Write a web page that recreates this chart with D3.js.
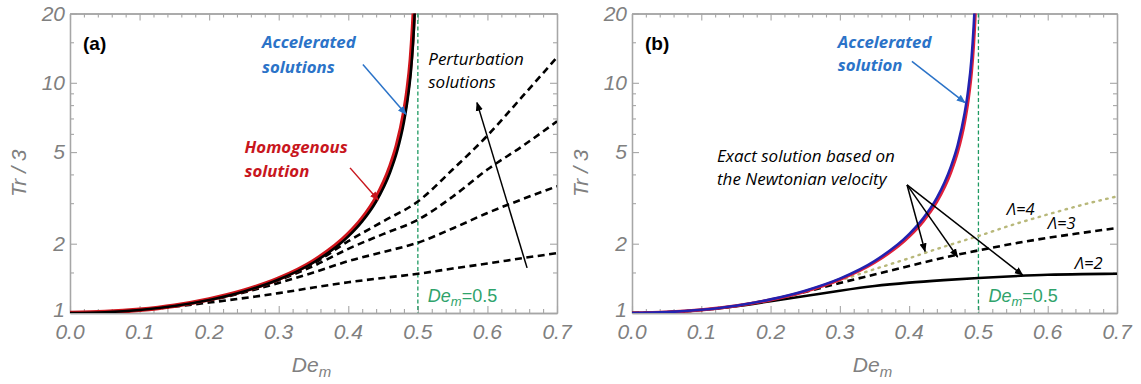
<!DOCTYPE html>
<html><head><meta charset="utf-8">
<script src="https://cdn.jsdelivr.net/npm/d3@7"></script>
<style>body{margin:0;background:#fff}svg{display:block}</style>
</head><body>
<svg id="chart" width="1141" height="384"></svg>
<script>
// ---------- data ----------
const xTicks = [0, 0.1, 0.2, 0.3, 0.4, 0.5, 0.6, 0.7];
const xTickLabels = ["0.0", "0.1", "0.2", "0.3", "0.4", "0.5", "0.6", "0.7"];
const xMinorTicks = [0.02,0.04,0.06,0.08,0.12,0.14,0.16,0.18,0.22,0.24,0.26,0.28,0.32,0.34,0.36,0.38,0.42,0.44,0.46,0.48,0.52,0.54,0.56,0.58,0.62,0.64,0.66,0.68];
const yTicks = [1, 2, 5, 10, 20];
const yTickLabels = ["1", "2", "5", "10", "20"];
const yMinorTicks = [1.5, 3, 4, 6, 7, 8, 9, 15];

// panel (a)
const deAcc = [0, 0.05, 0.1, 0.15, 0.2, 0.25, 0.3, 0.35, 0.4, 0.42, 0.44, 0.46, 0.47, 0.48, 0.485, 0.49, 0.493, 0.495, 0.4955];
const accelA = [1, 1.008, 1.031, 1.073, 1.14, 1.241, 1.398, 1.657, 2.151, 2.5, 3.05, 4.08, 5.02, 6.76, 8.35, 11.2, 14.7, 18.9, 20.5];
const homogA = [1, 1.009, 1.033, 1.076, 1.146, 1.25, 1.41, 1.68, 2.2, 2.57, 3.16, 4.3, 5.35, 7.35, 9.2, 12.7, 17.3, 22.5, 24];
const dePert = [0, 0.1, 0.2, 0.3, 0.35, 0.4, 0.45, 0.5, 0.55, 0.6, 0.65, 0.7];
const pert1 = [1, 1.031, 1.14, 1.395, 1.64, 2.05, 2.5, 3.05, 4.2, 5.9, 8.7, 12.9];
const pert2 = [1, 1.031, 1.14, 1.39, 1.6, 1.9, 2.2, 2.54, 3.2, 4.2, 5.3, 6.8];
const pert3 = [1, 1.03, 1.135, 1.35, 1.5, 1.68, 1.84, 2.02, 2.33, 2.72, 3.12, 3.55];
const pert4 = [1, 1.03, 1.11, 1.22, 1.29, 1.36, 1.42, 1.48, 1.56, 1.64, 1.73, 1.82];

// panel (b)
const accelB = [1, 1.009, 1.033, 1.076, 1.146, 1.25, 1.41, 1.68, 2.2, 2.57, 3.16, 4.3, 5.35, 7.35, 9.2, 12.7, 17.3, 22.5, 24];
const redB = [1, 1.008, 1.031, 1.073, 1.14, 1.241, 1.398, 1.657, 2.151, 2.5, 3.05, 4.08, 5.02, 6.76, 8.35, 11.2, 14.7, 18.9, 20.5];
const deLam = [0, 0.05, 0.1, 0.15, 0.2, 0.25, 0.3, 0.35, 0.4, 0.45, 0.5, 0.55, 0.6, 0.65, 0.7];
const lam2 = [1, 1.008, 1.03, 1.07, 1.125, 1.185, 1.25, 1.31, 1.355, 1.39, 1.42, 1.445, 1.465, 1.475, 1.48];
const lam3 = [1, 1.008, 1.031, 1.073, 1.14, 1.235, 1.35, 1.47, 1.6, 1.74, 1.87, 2.0, 2.12, 2.23, 2.34];
const lam4 = [1, 1.008, 1.031, 1.073, 1.14, 1.24, 1.385, 1.55, 1.73, 1.94, 2.16, 2.42, 2.68, 2.95, 3.21];

// ---------- layout ----------
const svg = d3.select("#chart");
const panels = [
  {x0: 70, x1: 557, id: "a"},
  {x0: 632, x1: 1117, id: "b"}
];
const yTop = 13.5, yBot = 313;
const gray = "#808080";
const frameCol = "#a6a6a6";
const tickFont = "'Liberation Sans', Arial, sans-serif";
const annFont = "'Open Sans', Lato, sans-serif";

const defs = svg.append("defs");
function marker(id, color) {
  defs.append("marker").attr("id", id).attr("viewBox", "0 0 10 10")
    .attr("refX", 9).attr("refY", 5).attr("markerWidth", 9).attr("markerHeight", 9)
    .attr("markerUnits", "userSpaceOnUse").attr("orient", "auto")
    .append("path").attr("d", "M0,1 L10,5 L0,9 Z").attr("fill", color);
}
marker("arrBlack", "#000");
marker("arrBlue", "#2b73c8");
marker("arrRed", "#c8161d");

panels.forEach(p => {
  p.x = d3.scaleLinear().domain([0, 0.7]).range([p.x0, p.x1]);
  p.y = d3.scaleLog().domain([1, 20]).range([yBot, yTop]);
  const g = svg.append("g");
  p.g = g;
  defs.append("clipPath").attr("id", "clip" + p.id).append("rect")
    .attr("x", p.x0).attr("y", yTop).attr("width", p.x1 - p.x0).attr("height", yBot - yTop);

  const mk = (axis, tr) => g.append("g").attr("transform", tr).call(axis)
    .call(s => s.select(".domain").attr("stroke", frameCol).attr("stroke-width", 1.3))
    .call(s => s.selectAll(".tick line").attr("stroke", frameCol).attr("stroke-width", 1.1))
    .call(s => s.selectAll(".tick text").remove());
  mk(d3.axisBottom(p.x).tickValues(xTicks).tickSizeInner(-7).tickSizeOuter(0), `translate(0,${yBot})`);
  mk(d3.axisTop(p.x).tickValues(xTicks).tickSizeInner(-7).tickSizeOuter(0), `translate(0,${yTop})`);
  mk(d3.axisLeft(p.y).tickValues(yTicks).tickSizeInner(-7).tickSizeOuter(0), `translate(${p.x0},0)`);
  mk(d3.axisRight(p.y).tickValues(yTicks).tickSizeInner(-7).tickSizeOuter(0), `translate(${p.x1},0)`);
  mk(d3.axisBottom(p.x).tickValues(xMinorTicks).tickSizeInner(-4).tickSizeOuter(0), `translate(0,${yBot})`);
  mk(d3.axisTop(p.x).tickValues(xMinorTicks).tickSizeInner(-4).tickSizeOuter(0), `translate(0,${yTop})`);
  mk(d3.axisLeft(p.y).tickValues(yMinorTicks).tickSizeInner(-4).tickSizeOuter(0), `translate(${p.x0},0)`);
  mk(d3.axisRight(p.y).tickValues(yMinorTicks).tickSizeInner(-4).tickSizeOuter(0), `translate(${p.x1},0)`);

  g.selectAll(".xl").data(xTicks).enter().append("text")
    .attr("x", d => p.x(d)).attr("y", 339).attr("text-anchor", "middle")
    .attr("font-family", tickFont).attr("font-style", "italic").attr("font-size", 21)
    .attr("fill", gray).text((d, i) => xTickLabels[i]);
  g.selectAll(".yl").data(yTicks).enter().append("text")
    .attr("x", p.x0 - 5).attr("y", d => p.y(d) + (d === 1 ? 4 : 7)).attr("text-anchor", "end")
    .attr("font-family", tickFont).attr("font-style", "italic").attr("font-size", 21)
    .attr("fill", gray).text((d, i) => yTickLabels[i]);

  const xt = g.append("text").attr("x", (p.x0 + p.x1) / 2 - 2).attr("y", 372).attr("text-anchor", "middle")
    .attr("font-family", tickFont).attr("font-style", "italic").attr("font-size", 21).attr("fill", gray);
  xt.append("tspan").text("De");
  xt.append("tspan").attr("font-size", 15).attr("dy", 5).text("m");
  g.append("text").attr("transform", `translate(${p.x0 - 44},${(yTop + yBot) / 2 + 10}) rotate(-90)`)
    .attr("text-anchor", "middle").attr("font-family", tickFont).attr("font-style", "italic")
    .attr("font-size", 21).attr("fill", gray).text("Tr / 3");

  g.append("line").attr("x1", p.x(0.5)).attr("x2", p.x(0.5)).attr("y1", yTop).attr("y2", yBot)
    .attr("stroke", "#1f9a62").attr("stroke-width", 1.3).attr("stroke-dasharray", "4,2.5");
  const gt = g.append("text").attr("x", p.x(0.5) + 10).attr("y", 302)
    .attr("font-family", tickFont).attr("font-size", 18).attr("fill", "#2fa36b");
  gt.append("tspan").attr("font-style", "italic").text("De");
  gt.append("tspan").attr("font-style", "italic").attr("font-size", 13).attr("dy", 4).text("m");
  gt.append("tspan").attr("dy", -4).text("=0.5");

  g.append("text").attr("x", p.x0 + 13).attr("y", 50).attr("font-family", tickFont)
    .attr("font-weight", "bold").attr("font-size", 19).attr("fill", "#000").text("(" + p.id + ")");
});

function drawLine(p, xs, ys, color, width, dash, cap) {
  const line = d3.line().x((d, i) => p.x(xs[i])).y(d => p.y(d)).curve(d3.curveMonotoneX);
  p.g.append("path").datum(ys).attr("d", line).attr("fill", "none")
    .attr("clip-path", `url(#clip${p.id})`)
    .attr("stroke", color).attr("stroke-width", width)
    .attr("stroke-dasharray", dash || null).attr("stroke-linecap", cap || "butt");
}
function arrow(p, x1, y1, x2, y2, color, mid, w) {
  p.g.append("line").attr("x1", p.x(x1)).attr("y1", p.y(y1)).attr("x2", p.x(x2)).attr("y2", p.y(y2))
    .attr("stroke", color).attr("stroke-width", w || 1.5).attr("marker-end", `url(#${mid})`);
}
function label(p, x, y, lines, color, opts) {
  const t = p.g.append("text").attr("font-family", annFont).attr("font-style", "italic")
    .attr("font-size", opts.size).attr("font-weight", opts.weight || "normal").attr("fill", color);
  lines.forEach((s, i) => t.append("tspan").attr("x", p.x(x)).attr("y", p.y(y) + i * opts.lh).text(s));
}

// ---------- panel (a) ----------
const A = panels[0];
[pert1, pert2, pert3, pert4].forEach(s => drawLine(A, dePert, s, "#000", 2.6, "7,4.5"));
drawLine(A, deAcc, homogA, "#d0151c", 4.5);
drawLine(A, deAcc, accelA, "#000", 2.6);
label(A, 0.276, 14.1, ["Accelerated", "solutions"], "#2b73c8", {size: 16.8, weight: "bold", lh: 25});
label(A, 0.251, 4.95, ["Homogenous", "solution"], "#c8161d", {size: 16.8, weight: "bold", lh: 24});
label(A, 0.515, 11.9, ["Perturbation", "solutions"], "#000", {size: 17, lh: 23});
arrow(A, 0.421, 12.0, 0.483, 7.3, "#2b73c8", "arrBlue", 1.5);
arrow(A, 0.4025, 4.27, 0.443, 3.1, "#c8161d", "arrRed", 1.5);
arrow(A, 0.657, 1.57, 0.585, 8.2, "#000", "arrBlack", 1.5);

// ---------- panel (b) ----------
const B = panels[1];
drawLine(B, deLam, lam4, "#b8b87a", 2.4, "1.5,5.5", "round");
drawLine(B, deLam, lam3, "#000", 2.6, "7,4.5");
drawLine(B, deLam, lam2, "#000", 2.6);
drawLine(B, deAcc, redB, "#e0203a", 3.2);
drawLine(B, deAcc, accelB, "#2222b0", 2.6);
label(B, 0.297, 14.1, ["Accelerated", "solution"], "#2b73c8", {size: 16.8, weight: "bold", lh: 23});
label(B, 0.1227, 4.54, ["Exact solution based on", "the Newtonian  velocity"], "#000", {size: 17, lh: 23});
label(B, 0.541, 2.67, ["\u039B=4"], "#000", {size: 16.5, lh: 20});
label(B, 0.6, 2.32, ["\u039B=3"], "#000", {size: 16.5, lh: 20});
label(B, 0.639, 1.55, ["\u039B=2"], "#000", {size: 16.5, lh: 20});
arrow(B, 0.404, 12.4, 0.4806, 8.2, "#2b73c8", "arrBlue", 1.5);
arrow(B, 0.397, 3.6, 0.423, 1.85, "#000", "arrBlack", 1.5);
arrow(B, 0.397, 3.6, 0.47, 1.75, "#000", "arrBlack", 1.5);
arrow(B, 0.397, 3.6, 0.564, 1.46, "#000", "arrBlack", 1.5);
</script>
</body></html>
